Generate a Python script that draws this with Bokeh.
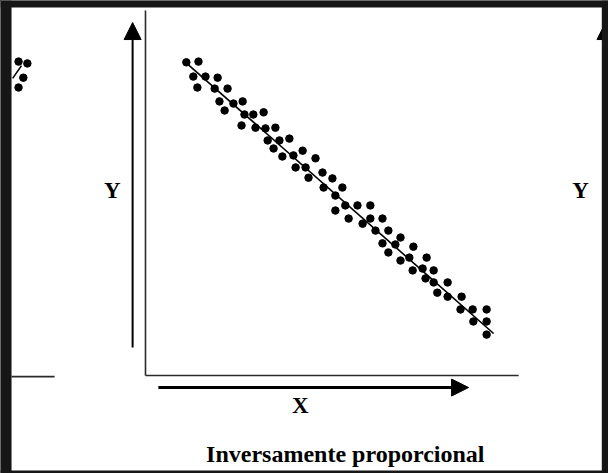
from bokeh.plotting import figure
from bokeh.models import Range1d, Arrow, NormalHead, BoxAnnotation, GlobalInlineStyleSheet
from bokeh.core.properties import value
from bokeh.embed import file_html
from bokeh.resources import INLINE

# ---- data ----
main_x = [1.11, 1.44, 1.30, 1.63, 1.96, 1.41, 1.88, 2.23, 2.01, 2.39, 2.64, 2.15, 2.69, 2.93,
          3.21, 2.61, 2.99, 3.26, 3.53, 3.32, 3.64, 3.91, 3.48, 4.27, 3.72, 4.02, 4.08, 4.35,
          4.62, 4.43, 4.81, 5.08, 4.84, 5.35, 5.16, 5.43, 5.76, 6.11, 5.16, 5.52, 5.90, 6.11,
          6.44, 6.25, 6.60, 6.44, 6.79, 6.93, 7.28, 6.60, 6.93, 7.17, 7.64, 7.26, 7.53, 7.83,
          7.61, 7.83, 8.21, 7.93, 8.21, 8.59, 8.56, 8.89, 9.27, 8.91, 9.27, 9.27]
main_y = [8.58, 8.60, 8.19, 8.19, 8.16, 7.89, 7.86, 7.86, 7.51, 7.45, 7.51, 7.26, 7.15, 7.15,
          7.21, 6.85, 6.79, 6.77, 6.79, 6.44, 6.44, 6.49, 6.22, 6.16, 6.00, 6.03, 5.70, 5.70,
          5.95, 5.42, 5.56, 5.40, 5.15, 5.15, 4.93, 4.66, 4.66, 4.66, 4.52, 4.30, 4.16, 4.30,
          4.30, 3.97, 3.97, 3.62, 3.59, 3.78, 3.53, 3.37, 3.15, 3.23, 3.23, 2.88, 2.93, 2.88,
          2.66, 2.55, 2.55, 2.27, 2.16, 2.16, 1.81, 1.81, 1.81, 1.48, 1.48, 1.12]
trend_x = [1.09, 9.46]
trend_y = [8.58, 1.15]

# partial neighbouring chart (cut off at the left edge)
left_x = [-3.45, -3.21, -3.32, -3.45]
left_y = [8.60, 8.55, 8.16, 7.89]
left_trend_x = [-3.61, -3.37]
left_trend_y = [8.14, 8.49]

axis_label_y = "Y"
axis_label_x = "X"
title_text = "Inversamente proporcional"

# ---- layout constants ----
X0, X1 = -3.940, 12.582
Y0, Y1 = -2.685, 10.274
DARK = "#161616"

p = figure(width=608, height=473, x_range=Range1d(X0, X1), y_range=Range1d(Y0, Y1),
           output_backend="svg", toolbar_location=None, min_border=0,
           x_axis_location=None, y_axis_location=None)
p.grid.visible = False
p.outline_line_color = None
p.background_fill_color = "white"
p.border_fill_color = "white"
p.stylesheets = [GlobalInlineStyleSheet(css="body{background-color:#161616;}")]

# axes of the main chart
p.segment(x0=[0, 0], y0=[0, 0], x1=[0, 10.14], y1=[10.0, 0], line_color="#2a2a2a", line_width=1.6)
# partial axis of left chart
p.segment(x0=[-3.64], y0=[-0.03], x1=[-2.47], y1=[-0.03], line_color="#2a2a2a", line_width=1.6)

# arrows
p.add_layout(Arrow(end=NormalHead(size=17, fill_color="black", line_color="black"),
                   x_start=0.35, y_start=-0.33, x_end=8.78, y_end=-0.33,
                   line_width=3, line_color="black"))
p.add_layout(Arrow(end=NormalHead(size=17, fill_color="black", line_color="black"),
                   x_start=-0.35, y_start=0.77, x_end=-0.35, y_end=9.67,
                   line_width=2, line_color="black"))
p.add_layout(Arrow(end=NormalHead(size=17, fill_color="black", line_color="black"),
                   x_start=12.50, y_start=0.77, x_end=12.50, y_end=9.67,
                   line_width=2, line_color="black"))

# trend lines and points
p.line(trend_x, trend_y, line_color="black", line_width=1.6)
p.scatter(main_x, main_y, size=7.5, fill_color="black", line_color="black")
p.line(left_trend_x, left_trend_y, line_color="black", line_width=1.6)
p.scatter(left_x, left_y, size=7.5, fill_color="black", line_color="black")

# texts
font = value("Liberation Serif")
p.text(x=[-0.90, 11.82], y=[5.07, 5.07], text=[axis_label_y, axis_label_y], text_font=font,
       text_font_style="bold", text_font_size="23px", text_align="center",
       text_baseline="middle", text_color="black")
p.text(x=[4.21], y=[-0.82], text=[axis_label_x], text_font=font, text_font_style="bold",
       text_font_size="23px", text_align="center", text_baseline="middle", text_color="black")
p.text(x=[5.43], y=[-2.14], text=[title_text], text_font=font, text_font_style="bold",
       text_font_size="24px", text_align="center", text_baseline="middle", text_color="black")

# dark picture border, drawn on top so that cut-off marks disappear beneath it
for kw in (dict(right=-3.64), dict(left=12.40), dict(bottom=10.08), dict(top=-2.60)):
    p.add_layout(BoxAnnotation(fill_color=DARK, fill_alpha=1.0, line_alpha=0, level="overlay", **kw))

open("out.html", "w").write(file_html(p, INLINE))
